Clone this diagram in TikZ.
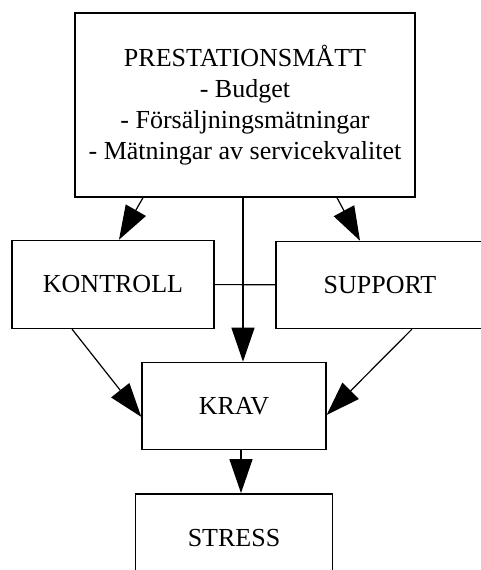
\documentclass[tikz,border=0pt]{standalone}
\usepackage{fontspec}
\setmainfont{Liberation Serif}
\usetikzlibrary{positioning}
\usetikzlibrary{arrows.meta}
\tikzstyle{model box}=[draw,line width=0.7pt,align=center,font=\fontsize{13pt}{15.5pt}\selectfont]
\tikzstyle{model edge}=[-{Triangle[length=17pt,width=11.5pt]},line width=0.6pt]
\tikzstyle{model line}=[line width=0.6pt]
\newcommand{\modelnode}[3][]{
  \node [model box, #1] (#2) {#3}
}

\begin{document}
\begin{tikzpicture}[x=1pt,y=1pt]
        \useasboundingbox (0,0) rectangle (240.5,-285);
        \modelnode[at={(122.5,-52.5)},minimum width=170pt,minimum height=92pt]{matt}{PRESTATIONSMÅTT\\- Budget\\- Försäljningsmätningar\\- Mätningar av servicekvalitet};
        \modelnode[below=21pt of matt,xshift=-66pt,minimum width=101pt,minimum height=44pt]{kontroll}{KONTROLL};
        \modelnode[below=21.5pt of matt,xshift=67.5pt,minimum width=104pt,minimum height=43.5pt]{support}{SUPPORT};
        \modelnode[below=82pt of matt,xshift=-5.5pt,minimum width=92pt,minimum height=43.5pt]{krav}{KRAV};
        \modelnode[below=21.5pt of krav,minimum width=98.5pt,minimum height=44pt]{stress}{STRESS};

            \draw[model edge] ([xshift=-51pt]matt.south) -- ([xshift=3pt]kontroll.north);
            \draw[model edge] ([xshift=46pt]matt.south) -- ([xshift=-10pt]support.north);
            \draw[model edge] ([xshift=-1pt]matt.south) -- ([xshift=-1pt]matt.south |- krav.north);

            \draw[model line] (kontroll) -- (support);

            \draw[model edge] ([xshift=-20.5pt]kontroll.south) -- ([yshift=-5.5pt]krav.west);
            \draw[model edge] ([xshift=16pt]support.south) -- ([yshift=-4.5pt]krav.east);

            \draw[model edge] ([xshift=3.5pt]krav.south) -- ([xshift=3.5pt]krav.south |- stress.north);
\end{tikzpicture}
\end{document}
